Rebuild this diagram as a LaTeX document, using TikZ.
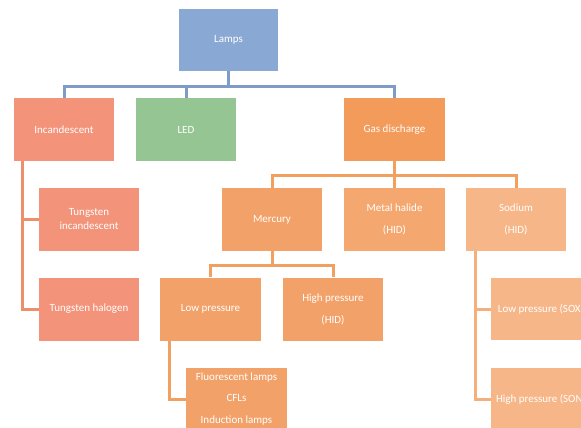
\documentclass[tikz,border=0pt]{standalone}
\usepackage{fontspec}
\setmainfont{Carlito}
\usetikzlibrary{positioning}

\definecolor{lampblue}{HTML}{8AA8D4}
\definecolor{lineblue}{HTML}{7F9CC8}
\definecolor{ledgreen}{HTML}{95C592}
\definecolor{salmon}{HTML}{F2937A}
\definecolor{salmonline}{HTML}{EE8F6C}
\definecolor{gasorange}{HTML}{F39B5A}
\definecolor{hgorange}{HTML}{F2A169}
\definecolor{halorange}{HTML}{F4A86F}
\definecolor{naorange}{HTML}{F6B687}
\definecolor{orangeline}{HTML}{F2A05F}
\definecolor{naline}{HTML}{F4AF7B}

\begin{document}
\begin{tikzpicture}[x=1pt,y=-1pt]
   \useasboundingbox (0,0) rectangle (581,428);
   \clip (0,0) rectangle (581,428);
   \fontsize{11}{14}\selectfont
   \tikzstyle{box}=[rectangle, minimum width=100pt, minimum height=63pt, inner sep=2pt, text=white, align=center]
   \tikzstyle{link}=[line width=3pt]
   % top level
   \node[box, fill=lampblue, minimum width=99pt, minimum height=62pt] (lamps) at (228.5,40) {Lamps};
   \node[box, fill=salmon] (incand) at (64,129.5) {Incandescent};
   \node[box, fill=ledgreen] (led) at (186,129.5) {LED};
   \node[box, fill=gasorange, minimum width=101pt] (gas) at (394.5,129.5) {Gas discharge};
   \foreach \kid in {incand,led,gas}
       \draw[link, lineblue] (lamps.south) -- ++(0,15) -| (\kid.north);
   % incandescent
   \node[box, fill=salmon] (tungi) at (89,219.5) {Tungsten\\incandescent};
   \node[box, fill=salmon] (tungh) at (89,309) {Tungsten halogen};
   \foreach \kid in {tungi,tungh}
       \draw[link, salmonline] ([xshift=9pt]incand.south west) |- (\kid.west);
   % gas discharge
   \node[box, fill=hgorange] (mercury) at (272,219.5) {Mercury};
   \node[box, fill=halorange, minimum width=101pt] (metal) at (394.5,219.5) {Metal halide\\[8pt](HID)};
   \node[box, fill=naorange] (sodium) at (516,219.5) {Sodium\\[8pt](HID)};
   \foreach \kid in {mercury,metal,sodium}
       \draw[link, orangeline] (gas.south) -- ++(0,14) -| (\kid.north);
   % mercury
   \node[box, fill=hgorange, minimum width=101pt] (lowp) at (210.5,309) {Low pressure};
   \node[box, fill=hgorange] (highp) at (333,309) {High pressure\\[8pt](HID)};
   \foreach \kid in {lowp,highp}
       \draw[link, orangeline] (mercury.south) -- ++(0,14) -| (\kid.north);
   \node[box, fill=hgorange, minimum width=101pt, minimum height=62pt] (fluor) at (236.5,399) {Fluorescent lamps\\[7.5pt]CFLs\\[7.5pt]Induction lamps};
   \draw[link, orangeline] ([xshift=10pt]lowp.south west) |- (fluor.west);
   % sodium
   \node[box, fill=naorange, minimum height=62pt] (sox) at (541,309) {Low pressure (SOX)};
   \node[box, fill=naorange, minimum height=62pt] (son) at (541,399) {High pressure (SON)};
   \foreach \kid in {sox,son}
       \draw[link, naline] ([xshift=10pt]sodium.south west) |- (\kid.west);
\end{tikzpicture}
\end{document}
